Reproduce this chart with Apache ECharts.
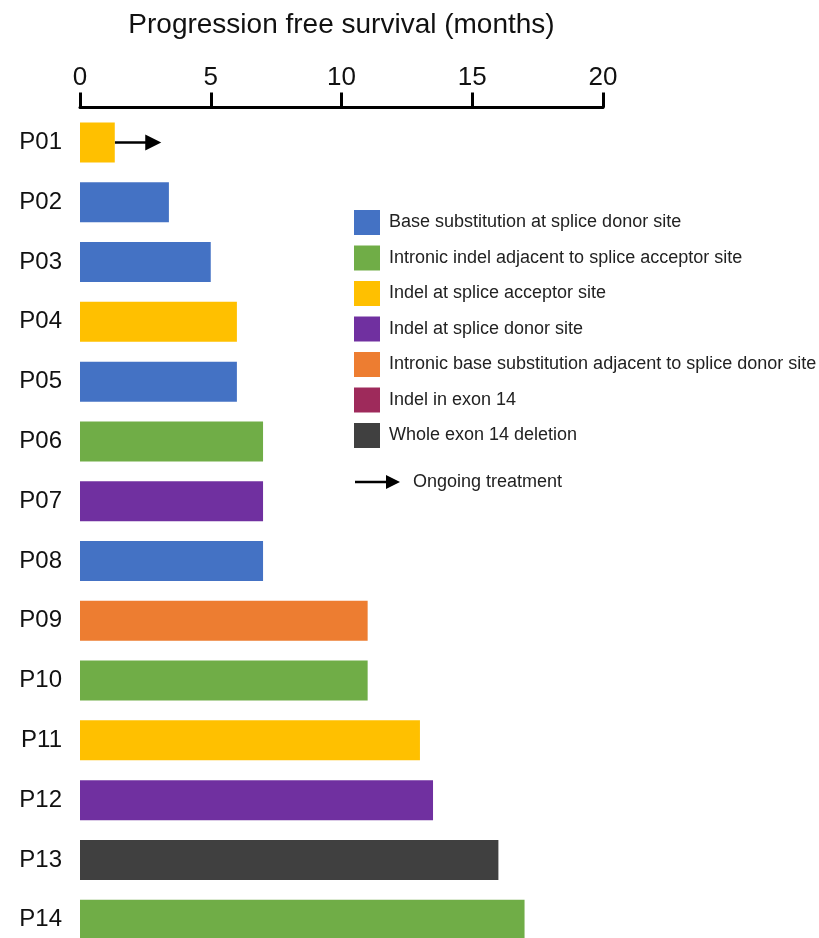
<!DOCTYPE html>
<html>
<head>
<meta charset="utf-8">
<script src="https://cdn.jsdelivr.net/npm/echarts@6/dist/echarts.min.js"></script>
<style>
html,body{margin:0;padding:0;background:#fff;}
#chart{width:819px;height:938px;}
</style>
</head>
<body>
<div id="chart"></div>
<script>
const patients = ['P01','P02','P03','P04','P05','P06','P07','P08','P09','P10','P11','P12','P13','P14'];
const pfsMonths = [1.33, 3.4, 5.0, 6.0, 6.0, 7.0, 7.0, 7.0, 11.0, 11.0, 13.0, 13.5, 16.0, 17.0];
const mutationOfPatient = [
  'Indel at splice acceptor site',
  'Base substitution at splice donor site',
  'Base substitution at splice donor site',
  'Indel at splice acceptor site',
  'Base substitution at splice donor site',
  'Intronic indel adjacent to splice acceptor site',
  'Indel at splice donor site',
  'Base substitution at splice donor site',
  'Intronic base substitution adjacent to splice donor site',
  'Intronic indel adjacent to splice acceptor site',
  'Indel at splice acceptor site',
  'Indel at splice donor site',
  'Whole exon 14 deletion',
  'Intronic indel adjacent to splice acceptor site'
];
const mutationTypes = [
  'Base substitution at splice donor site',
  'Intronic indel adjacent to splice acceptor site',
  'Indel at splice acceptor site',
  'Indel at splice donor site',
  'Intronic base substitution adjacent to splice donor site',
  'Indel in exon 14',
  'Whole exon 14 deletion'
];
const mutationColors = ['#4472C4','#70AD47','#FFC000','#7030A0','#ED7D31','#9E2A5B','#404040'];
const ongoingPatient = 'P01';
const ongoingArrowEnd = 2.8;
const xTicks = [0, 5, 10, 15, 20];

const chart = echarts.init(document.getElementById('chart'));
const FONT = 'Liberation Sans, Arial, sans-serif';

const barSeries = mutationTypes.map((t, k) => ({
  name: t,
  type: 'bar',
  barWidth: 40,
  barGap: '-100%',
  itemStyle: { color: mutationColors[k] },
  data: pfsMonths.map((v, i) => mutationOfPatient[i] === t ? v : '-'),
  silent: true
}));

const oi = patients.indexOf(ongoingPatient);
const arrowSeries = {
  name: 'Ongoing treatment',
  type: 'lines',
  coordinateSystem: 'cartesian2d',
  symbol: ['none', 'triangle'],
  symbolSize: [14, 16],
  lineStyle: { color: '#000', width: 2.5, opacity: 1 },
  silent: true,
  data: [{ coords: [[pfsMonths[oi], oi], [ongoingArrowEnd, oi]] }]
};

chart.setOption({
  animation: false,
  backgroundColor: '#fff',
  grid: { left: 80, top: 112.6, width: 523, height: 837, containLabel: false, outerBoundsMode: 'none' },
  legend: {
    data: mutationTypes,
    orient: 'vertical',
    left: 349,
    top: 205,
    itemWidth: 26,
    itemHeight: 25,
    itemGap: 10.5,
    icon: 'rect',
    selectedMode: false,
    textStyle: { fontFamily: FONT, fontSize: 18, color: '#222', padding: [0, 0, 0, 4] }
  },
  xAxis: {
    type: 'value',
    position: 'top',
    offset: 5,
    min: 0, max: 20, interval: 5,
    name: 'Progression free survival (months)',
    nameLocation: 'middle',
    nameGap: 68,
    nameTextStyle: { fontFamily: FONT, fontSize: 28, color: '#111' },
    axisLine: { show: true, lineStyle: { color: '#000', width: 3 } },
    axisTick: { show: true, length: 15, lineStyle: { color: '#000', width: 3 } },
    axisLabel: { fontFamily: FONT, fontSize: 26, color: '#111', margin: 17,
      formatter: v => xTicks.includes(v) ? String(v) : '' },
    splitLine: { show: false }
  },
  yAxis: {
    type: 'category',
    data: patients,
    inverse: true,
    axisLine: { show: false },
    axisTick: { show: false },
    axisLabel: { fontFamily: FONT, fontSize: 24, color: '#111', margin: 18 }
  },
  series: [...barSeries, arrowSeries],
  graphic: [
    { type: 'line', shape: { x1: 355, y1: 482, x2: 388, y2: 482 }, style: { stroke: '#000', lineWidth: 2.5 } },
    { type: 'polygon', shape: { points: [[386, 475], [400, 482], [386, 489]] }, style: { fill: '#000' } },
    { type: 'text', left: 413, top: 473, style: { text: 'Ongoing treatment', fontFamily: FONT, fontSize: 18, fill: '#222' } }
  ]
});
</script>
</body>
</html>
